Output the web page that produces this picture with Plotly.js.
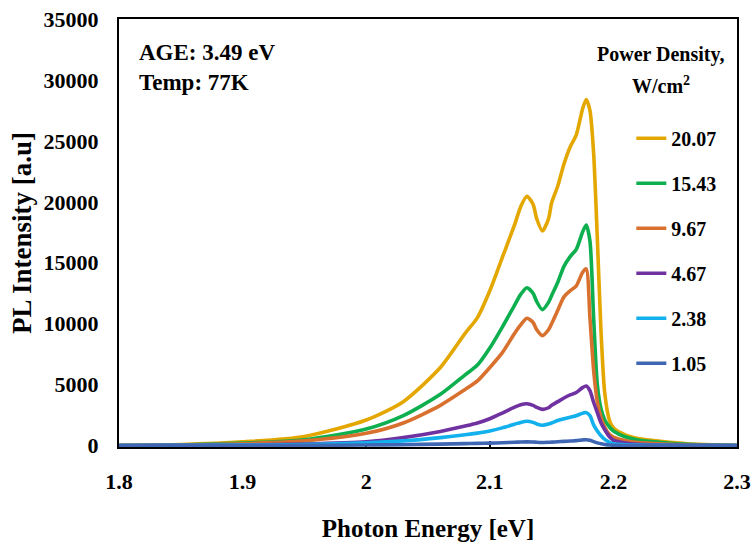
<!DOCTYPE html>
<html>
<head>
<meta charset="utf-8">
<script src="https://cdn.plot.ly/plotly-3.0.1.min.js"></script>
<style>html,body{margin:0;padding:0;background:#fff;}#chart{width:752px;height:556px;}</style>
</head>
<body>
<div id="chart"></div>
<script>
// Photon energy grid (eV)
const energy = [1.80, 1.85, 1.90, 1.95, 2.00, 2.03, 2.06, 2.08, 2.09, 2.10, 2.11, 2.12, 2.125, 2.13, 2.135, 2.138, 2.1425, 2.1475, 2.15, 2.155, 2.16, 2.165, 2.17, 2.175, 2.178, 2.181, 2.184, 2.187, 2.19, 2.193, 2.197, 2.20, 2.21, 2.22, 2.24, 2.26, 2.30];

// PL intensity [a.u] per power density (W/cm2)
const pd2007 = [0, 80, 300, 750, 2100, 3600, 6400, 9200, 10500, 12700, 15400, 18100, 19600, 20450, 19800, 18600, 17600, 18600, 19900, 21300, 23100, 24500, 25500, 27600, 28400, 27500, 24000, 17000, 9300, 4300, 2000, 1450, 850, 580, 330, 150, 0];
const pd1543 = [0, 50, 200, 480, 1350, 2450, 4200, 5800, 6600, 8000, 9700, 11500, 12400, 12950, 12500, 11800, 11150, 11750, 12300, 13400, 14700, 15500, 16100, 17500, 18100, 16800, 10500, 5000, 3000, 2100, 1500, 1200, 700, 450, 250, 100, 0];
const pd967  = [0, 40, 150, 380, 1000, 1850, 3300, 4600, 5300, 6400, 7600, 9200, 9900, 10450, 10100, 9500, 9020, 9500, 10000, 11100, 12200, 12700, 13100, 14200, 14500, 10500, 6200, 3600, 2300, 1500, 900, 700, 400, 250, 130, 50, 0];
const pd467  = [0, 15, 50, 120, 300, 650, 1150, 1600, 1850, 2200, 2650, 3150, 3350, 3430, 3300, 3130, 2970, 3100, 3300, 3600, 3900, 4150, 4350, 4750, 4880, 4500, 3550, 2700, 1850, 1300, 700, 450, 200, 100, 50, 20, 0];
const pd238  = [0, 10, 30, 80, 220, 380, 650, 880, 1020, 1200, 1450, 1750, 1900, 1990, 1900, 1770, 1660, 1760, 1850, 2050, 2200, 2330, 2450, 2650, 2700, 2450, 1700, 1200, 800, 500, 250, 150, 60, 30, 10, 0, 0];
const pd105  = [0, 0, 5, 15, 40, 70, 120, 160, 180, 200, 230, 270, 290, 300, 290, 270, 255, 265, 280, 310, 340, 370, 400, 460, 480, 430, 320, 220, 140, 90, 40, 20, 5, 0, 0, 0, 0];

const seriesNames = ["20.07", "15.43", "9.67", "4.67", "2.38", "1.05"];
const seriesData = [pd2007, pd1543, pd967, pd467, pd238, pd105];
const seriesColors = ["#E3A700", "#0DAF4F", "#D8702E", "#7032A0", "#12B0EC", "#3F66B3"];

const xTicks = [1.8, 1.9, 2.0, 2.1, 2.2, 2.3];
const xTickText = ["1.8", "1.9", "2", "2.1", "2.2", "2.3"];
const yTicks = [0, 5000, 10000, 15000, 20000, 25000, 30000, 35000];
const yTickText = ["0", "5000", "10000", "15000", "20000", "25000", "30000", "35000"];

const FONT = "Liberation Serif, Times New Roman, serif";

const traces = seriesNames.map((n, i) => ({
  type: "scatter",
  mode: "lines",
  name: n,
  legendgroup: "g" + i,
  x: energy,
  y: seriesData[i],
  line: {color: seriesColors[i], width: 3.6, shape: "spline", smoothing: 0.7}
}));

const layout = {
  width: 752, height: 556,
  margin: {l: 119, r: 15, t: 19, b: 109},
  paper_bgcolor: "#fff", plot_bgcolor: "#fff",
  font: {family: FONT, color: "#000", weight: "bold"},
  showlegend: true,
  legend: {
    x: 0.829, y: 0.767, xanchor: "left", yanchor: "top",
    bgcolor: "rgba(0,0,0,0)",
    font: {family: FONT, size: 20, color: "#000", weight: "bold"},
    tracegroupgap: 16, itemwidth: 30
  },
  xaxis: {
    range: [1.8, 2.3],
    tickvals: xTicks, ticktext: xTickText,
    ticks: "inside", ticklen: 6, tickwidth: 2, tickcolor: "#000",
    showline: true, linecolor: "#000", linewidth: 2, mirror: true,
    showgrid: false, zeroline: false, layer: "below traces",
    tickfont: {family: FONT, size: 22, color: "#000", weight: "bold"},
    ticklabelstandoff: 14,
    title: {text: "Photon Energy [eV]", font: {family: FONT, size: 25, color: "#000", weight: "bold"}, standoff: 26}
  },
  yaxis: {
    range: [-120, 35000],
    tickvals: yTicks, ticktext: yTickText,
    ticks: "", showline: true, linecolor: "#000", linewidth: 2, mirror: true,
    showgrid: false, zeroline: false, layer: "below traces",
    tickfont: {family: FONT, size: 22, color: "#000", weight: "bold"},
    ticklabelstandoff: 14,
    title: {text: "PL Intensity [a.u]", font: {family: FONT, size: 27, color: "#000", weight: "bold"}, standoff: 4}
  },
  annotations: [
    {xref: "paper", yref: "paper", x: 0.029, y: 0.921, xanchor: "left", yanchor: "middle", showarrow: false,
     text: "AGE: 3.49 eV", font: {family: FONT, size: 23, color: "#000", weight: "bold"}},
    {xref: "paper", yref: "paper", x: 0.029, y: 0.851, xanchor: "left", yanchor: "middle", showarrow: false,
     text: "Temp: 77K", font: {family: FONT, size: 23, color: "#000", weight: "bold"}},
    {xref: "paper", yref: "paper", x: 0.877, y: 0.916, xanchor: "center", yanchor: "middle", showarrow: false,
     text: "Power Density,", font: {family: FONT, size: 20, color: "#000", weight: "bold"}},
    {xref: "paper", yref: "paper", x: 0.877, y: 0.845, xanchor: "center", yanchor: "middle", showarrow: false,
     text: "W/cm<sup>2</sup>", font: {family: FONT, size: 20, color: "#000", weight: "bold"}}
  ]
};

Plotly.newPlot("chart", traces, layout, {staticPlot: true, displayModeBar: false});
</script>
</body>
</html>
